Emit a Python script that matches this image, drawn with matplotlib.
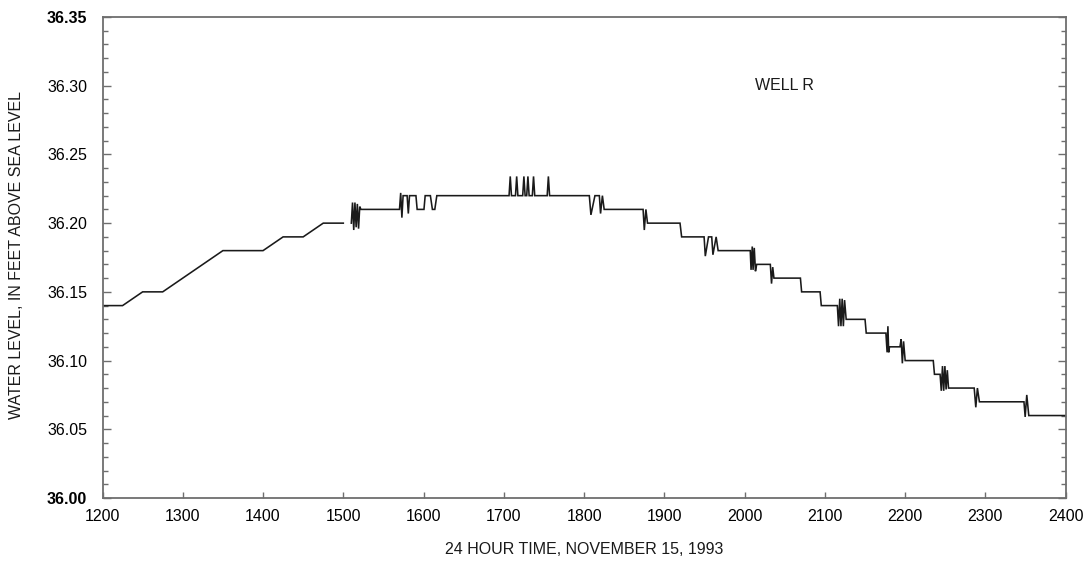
import matplotlib
matplotlib.use("Agg")
import matplotlib.pyplot as plt
from matplotlib.ticker import MultipleLocator, FixedLocator

plt.rcParams['font.family'] = ['Liberation Sans', 'DejaVu Sans']

# Segment 1: 15-minute readings (time as 24-hour clock value)
time_a = [1200, 1225, 1250, 1275, 1300, 1325, 1350, 1375, 1400, 1425, 1450, 1475, 1500]
level_a = [36.14, 36.14, 36.15, 36.15, 36.16, 36.17, 36.18, 36.18, 36.18, 36.19, 36.19, 36.20, 36.20]

# Segment 2: frequent readings, flickering between adjacent levels (spike tips as drawn)
time_b = [1510, 1511.5, 1513, 1514.5, 1516, 1517.5, 1519, 1520.5, 1522,
          1570, 1571.5, 1573, 1574.5, 1579.5, 1581, 1582.5, 1590.5, 1592, 1600.5, 1602,
          1608.5, 1611, 1614, 1616.5,
          1706.5, 1708, 1709.5, 1714.5, 1716, 1717.5, 1723.5, 1725, 1726.5,
          1728.5, 1730, 1731.5, 1735.5, 1737, 1738.5, 1754, 1755.5, 1757,
          1806.5, 1808.5, 1813.5, 1819, 1820.5, 1822.8, 1825,
          1873.5, 1875, 1877, 1879, 1919.5, 1921.5,
          1949.5, 1951, 1955, 1959, 1960.5, 1964.5, 1967,
          2007, 2008, 2009.5, 2010.5, 2012, 2013.5, 2015,
          2032, 2033.5, 2035, 2036.5, 2069.5, 2071, 2094, 2095.5,
          2115.5, 2117, 2118.5, 2120, 2121.5, 2123, 2124.5, 2126.5, 2150, 2151.5,
          2176, 2177.5, 2178.5, 2179.5, 2180.5,
          2193.5, 2195, 2196.5, 2198, 2200, 2235, 2236.5,
          2243.5, 2245, 2246.5, 2248, 2249.5, 2251, 2252.5, 2254,
          2286, 2288, 2290, 2292.5,
          2348, 2349.5, 2351.5, 2354, 2400]
level_b = [36.20, 36.215, 36.195, 36.215, 36.197, 36.214, 36.196, 36.212, 36.21,
           36.21, 36.222, 36.204, 36.22, 36.22, 36.207, 36.22, 36.22, 36.21, 36.21, 36.22,
           36.22, 36.21, 36.21, 36.22,
           36.22, 36.234, 36.22, 36.22, 36.234, 36.22, 36.22, 36.234, 36.22,
           36.22, 36.234, 36.22, 36.22, 36.234, 36.22, 36.22, 36.234, 36.22,
           36.22, 36.206, 36.22, 36.22, 36.207, 36.22, 36.21,
           36.21, 36.195, 36.21, 36.20, 36.20, 36.19,
           36.19, 36.176, 36.19, 36.19, 36.177, 36.19, 36.18,
           36.18, 36.166, 36.183, 36.166, 36.182, 36.165, 36.17,
           36.17, 36.156, 36.168, 36.16, 36.16, 36.15, 36.15, 36.14,
           36.14, 36.125, 36.145, 36.125, 36.145, 36.125, 36.144, 36.13, 36.13, 36.12,
           36.12, 36.106, 36.125, 36.106, 36.11,
           36.11, 36.1155, 36.098, 36.114, 36.10, 36.10, 36.09,
           36.09, 36.078, 36.096, 36.078, 36.096, 36.079, 36.093, 36.08,
           36.08, 36.066, 36.08, 36.07,
           36.07, 36.059, 36.075, 36.06, 36.06]

x_ticks = [1200, 1300, 1400, 1500, 1600, 1700, 1800, 1900, 2000, 2100, 2200, 2300, 2400]
y_ticks = [36.00, 36.05, 36.10, 36.15, 36.20, 36.25, 36.30, 36.35]

fig = plt.figure(figsize=(10.89, 5.61), dpi=100)
ax = fig.add_axes([102.5 / 1089, 1 - 498 / 561, 963.2 / 1089, 481 / 561])

line_kw = dict(color='#1a1a1a', lw=1.15, solid_joinstyle='miter')
ax.plot(time_a, level_a, **line_kw)
ax.plot(time_b, level_b, **line_kw)

ax.set_xlim(1200, 2400)
ax.set_ylim(36.00, 36.35)
ax.xaxis.set_major_locator(FixedLocator(x_ticks))
ax.yaxis.set_major_locator(FixedLocator(y_ticks))
ax.yaxis.set_minor_locator(MultipleLocator(0.01))
ax.set_xticklabels([str(t) for t in x_ticks])
ax.set_yticklabels([f"{v:.2f}" for v in y_ticks])
for i, lab in enumerate(ax.get_yticklabels()):
    if i in (0, len(y_ticks) - 1):
        lab.set_fontweight('bold')

spine_col = '#6e6e6e'
for s in ax.spines.values():
    s.set_color(spine_col)
    s.set_linewidth(1.3)

ax.tick_params(axis='x', which='major', direction='in', length=4, width=1.0,
               color=spine_col, labelsize=11.5, pad=8, top=False)
ax.tick_params(axis='y', which='major', direction='in', length=6, width=1.0,
               color=spine_col, labelsize=11.5, pad=11, right=True)
ax.tick_params(axis='y', which='minor', direction='in', length=3.5, width=1.0,
               color=spine_col, right=True)

ax.text(2013, 36.30, 'WELL R', fontsize=11.5, ha='left', va='center', color='#1a1a1a')

fig.text(584 / 1089, 1 - 550 / 561, '24 HOUR TIME, NOVEMBER 15, 1993',
         fontsize=11.5, ha='center', va='center', color='#1a1a1a')
fig.text(17 / 1089, 1 - 255 / 561, 'WATER LEVEL, IN FEET ABOVE SEA LEVEL',
         fontsize=11.5, ha='center', va='center', rotation=90, color='#1a1a1a')

fig.savefig('out.png', dpi=100)
